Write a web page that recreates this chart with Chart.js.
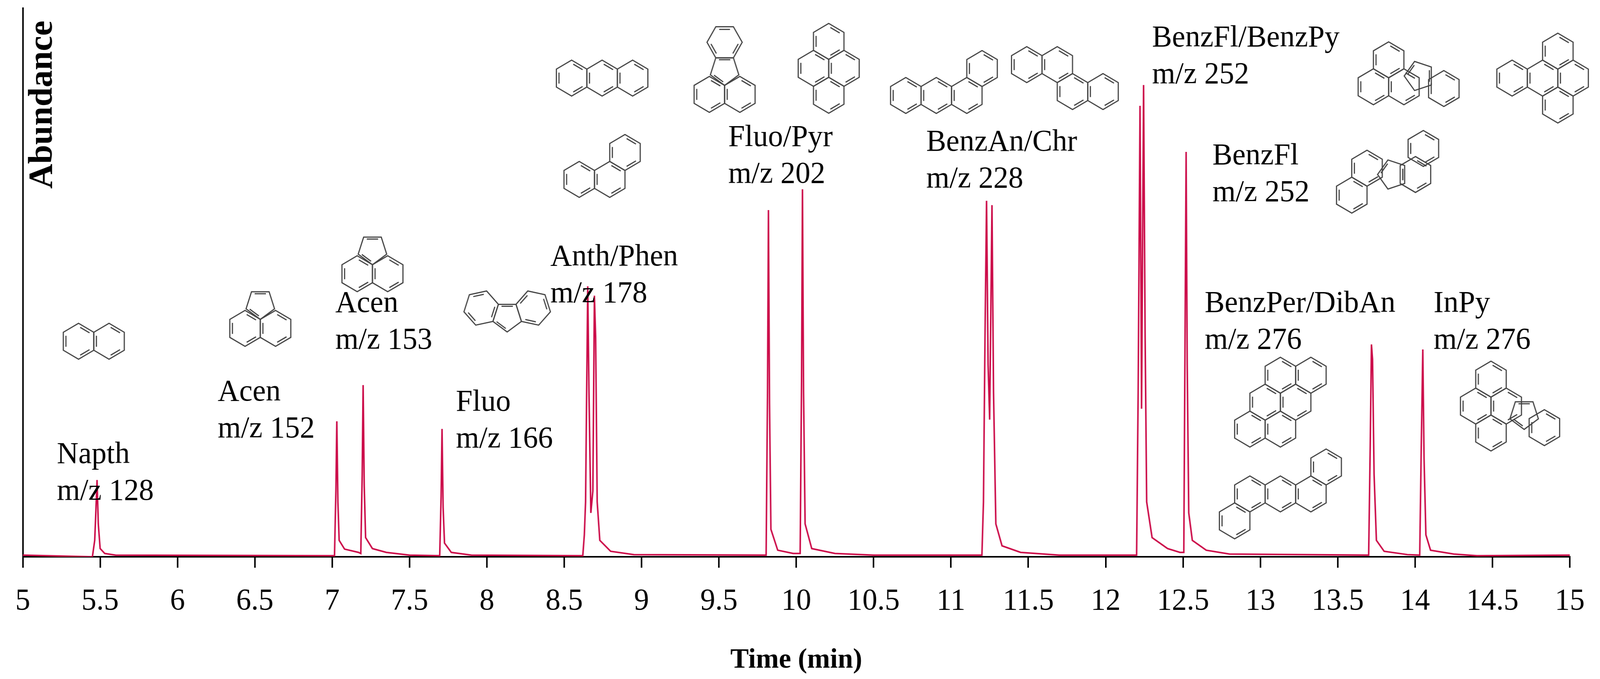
<!DOCTYPE html>
<html>
<head>
<meta charset="utf-8">
<script src="https://cdn.jsdelivr.net/npm/chart.js"></script>
<style>
  html, body { margin: 0; padding: 0; background: #fff; overflow: hidden; }
  #chart { display: block; width: 100vw !important; height: 100vh !important; }
</style>
</head>
<body>
<canvas id="chart" width="4180" height="1739"></canvas>
<script>
// x axis ticks (min)
const xTicks = [5, 5.5, 6, 6.5, 7, 7.5, 8, 8.5, 9, 9.5, 10, 10.5, 11, 11.5, 12, 12.5, 13, 13.5, 14, 14.5, 15];

// trace points: [time, abundance %]
const baseStart = [[5, 0.3]];
const napth = [[5.45,0],[5.465,3],[5.472,8],[5.48,14],[5.488,6],[5.5,1.5],[5.53,0.6],[5.6,0.3]];
const acen152 = [[7.015,0.2],[7.024,12],[7.03,24.7],[7.037,10],[7.045,3],[7.08,1.4],[7.17,0.8]];
const acen153 = [[7.185,0.6],[7.194,15],[7.2,31.3],[7.207,13],[7.216,3.5],[7.26,1.5],[7.35,0.8],[7.5,0.3]];
const fluo = [[7.695,0.2],[7.704,11],[7.71,23.3],[7.717,9],[7.726,2.5],[7.77,0.8],[7.9,0.3]];
const anthPhen = [[8.62,0.2],[8.63,4],[8.638,10],[8.645,30],[8.652,49.3],[8.66,30],[8.672,8],[8.685,12],[8.695,47.6],[8.703,40],[8.713,10],[8.73,3],[8.8,1],[8.95,0.4]];
const fluoPyr1 = [[9.805,0.3],[9.814,30],[9.82,63.2],[9.827,28],[9.836,5],[9.88,1.2],[9.98,0.6]];
const fluoPyr2 = [[10.025,0.6],[10.034,32],[10.04,67],[10.047,30],[10.057,6],[10.1,1.5],[10.25,0.6],[10.5,0.3]];
const benzAnChr = [[11.2,0.3],[11.21,10],[11.22,40],[11.23,64.9],[11.24,35],[11.25,25],[11.265,64.1],[11.275,30],[11.29,6],[11.33,2],[11.45,0.8],[11.7,0.3]];
const benzFlPy = [[12.2,0.3],[12.21,30],[12.222,82.2],[12.232,27],[12.245,86],[12.255,40],[12.265,10],[12.3,3.5],[12.4,1.5],[12.48,0.8]];
const benzFl = [[12.505,0.8],[12.512,35],[12.52,73.8],[12.527,35],[12.537,8],[12.56,3],[12.65,1.2],[12.8,0.5]];
const benzPer = [[13.7,0.3],[13.71,20],[13.718,38.7],[13.725,36],[13.735,15],[13.75,3],[13.8,1],[13.95,0.4]];
const inPy = [[14.03,0.3],[14.04,20],[14.05,37.8],[14.058,18],[14.07,4],[14.1,1.2],[14.25,0.5],[14.4,0.2]];
const baseEnd = [[15, 0.3]];

const trace = [].concat(baseStart, napth, acen152, acen153, fluo, anthPhen, fluoPyr1, fluoPyr2,
  benzAnChr, benzFlPy, benzFl, benzPer, inPy, baseEnd).map(p => ({ x: p[0], y: p[1] }));

// peak labels: [name, mass line, time, abundance of first line baseline]
const peakLabels = [
  ['Napth', 'm/z 128', 5.22, 17.1],
  ['Acen', 'm/z 152', 6.26, 28.5],
  ['Acen', 'm/z 153', 7.02, 44.6],
  ['Fluo', 'm/z 166', 7.80, 26.6],
  ['Anth/Phen', 'm/z 178', 8.41, 53.1],
  ['Fluo/Pyr', 'm/z 202', 9.56, 74.9],
  ['BenzAn/Chr', 'm/z 228', 10.84, 74.0],
  ['BenzFl/BenzPy', 'm/z 252', 12.30, 93.0],
  ['BenzFl', 'm/z 252', 12.69, 71.5],
  ['BenzPer/DibAn', 'm/z 276', 12.64, 44.6],
  ['InPy', 'm/z 276', 14.12, 44.6]
];

// ring drawings (structures), unit = ring side
function hx(q, r) { return { x: Math.sqrt(3) * (q + r / 2), y: 1.5 * r, n: 6, rot: -90 }; }
const pentTop = { x: 0.866, y: -1.35, n: 5, rot: 90 };
const fluoranthene = [hx(0,0), hx(1,0), pentTop, { x: 0.866, y: -2.9, n: 6, rot: 0 }];
const molecules = [
  { cx: 245, cy: 874, rings: [hx(0,0), hx(1,0)] },
  { cx: 680, cy: 810, rings: [hx(0,0), hx(1,0), pentTop] },
  { cx: 973, cy: 670, rings: [hx(0,0), hx(1,0), pentTop] },
  { cx: 1325, cy: 800, rings: [{ x: 0, y: 0, n: 5, rot: 90 }, { x: -1.478, y: -0.48, n: 6, rot: -12 }, { x: 1.478, y: -0.48, n: 6, rot: 312 }] },
  { cx: 1573, cy: 200, rings: [hx(0,0), hx(1,0), hx(2,0)] },
  { cx: 1573, cy: 425, rings: [hx(0,0), hx(1,0), hx(2,-1)] },
  { cx: 1893, cy: 175, rings: fluoranthene },
  { cx: 2165, cy: 175, rings: [hx(0,0), hx(1,0), hx(0,1), hx(1,-1)] },
  { cx: 2466, cy: 210, rings: [hx(0,0), hx(1,0), hx(2,0), hx(3,-1)] },
  { cx: 2782, cy: 200, rings: [hx(0,0), hx(1,0), hx(1,1), hx(2,1)] },
  { cx: 3680, cy: 190, rings: [hx(0,0), hx(1,0), { x: 2.6, y: -0.6, n: 5, rot: 180 }, hx(1,-1), { x: 4.0, y: 0.1, n: 6, rot: -90 }] },
  { cx: 4030, cy: 200, rings: [hx(0,0), hx(1,0), hx(0,1), hx(1,-1), hx(-1,0)] },
  { cx: 3625, cy: 440, rings: [hx(0,0), hx(-1,1), { x: 1.45, y: 0.35, n: 5, rot: 180 }, { x: 2.75, y: 0.35, n: 6, rot: -90 }, { x: 3.2, y: -1.1, n: 6, rot: -90 }] },
  { cx: 3345, cy: 1030, rings: [hx(0,0), hx(1,0), hx(1,-1), hx(0,1), hx(-1,1), hx(2,-1)] },
  { cx: 3345, cy: 1265, rings: [hx(0,0), hx(1,0), hx(2,0), hx(-1,1), hx(3,-1)] },
  { cx: 3945, cy: 1040, rings: [hx(0,0), hx(1,0), hx(0,1), hx(1,-1), { x: 2.75, y: 0.45, n: 5, rot: 90 }, { x: 3.9, y: 1.2, n: 6, rot: -90 }] }
];
const ringSide = 46;

function drawRing(ctx, x, y, n, rot, side) {
  const R = side / (2 * Math.sin(Math.PI / n));
  ctx.beginPath();
  for (let k = 0; k < n; k++) {
    const a = (rot + k * 360 / n) * Math.PI / 180;
    const px = x + R * Math.cos(a), py = y + R * Math.sin(a);
    if (k === 0) ctx.moveTo(px, py); else ctx.lineTo(px, py);
  }
  ctx.closePath();
  ctx.stroke();
  // inner double-bond strokes on alternating edges
  for (let k = 0; k < n - 1; k += 2) {
    const a1 = (rot + k * 360 / n) * Math.PI / 180, a2 = (rot + (k + 1) * 360 / n) * Math.PI / 180;
    const r2 = R * 0.78;
    ctx.beginPath();
    ctx.moveTo(x + r2 * Math.cos(a1 + 0.12), y + r2 * Math.sin(a1 + 0.12));
    ctx.lineTo(x + r2 * Math.cos(a2 - 0.12), y + r2 * Math.sin(a2 - 0.12));
    ctx.stroke();
  }
}

const decorations = {
  id: 'decorations',
  afterDatasetsDraw(chart) {
    const ctx = chart.ctx, xs = chart.scales.x, ys = chart.scales.y;
    ctx.save();
    ctx.fillStyle = '#000';
    ctx.font = '78px "Liberation Serif", serif';
    ctx.textBaseline = 'alphabetic';
    peakLabels.forEach(l => {
      const px = xs.getPixelForValue(l[2]), py = ys.getPixelForValue(l[3]);
      ctx.fillText(l[0], px, py);
      ctx.fillText(l[1], px, py + 94);
    });
    ctx.strokeStyle = '#444';
    ctx.lineWidth = 3;
    molecules.forEach(m => {
      let minX = 1e9, maxX = -1e9, minY = 1e9, maxY = -1e9;
      m.rings.forEach(r => {
        minX = Math.min(minX, r.x - 1); maxX = Math.max(maxX, r.x + 1);
        minY = Math.min(minY, r.y - 1); maxY = Math.max(maxY, r.y + 1);
      });
      const ox = m.cx - (minX + maxX) / 2 * ringSide, oy = m.cy - (minY + maxY) / 2 * ringSide;
      m.rings.forEach(r => drawRing(ctx, ox + r.x * ringSide, oy + r.y * ringSide, r.n, r.rot, ringSide));
    });
    // y axis title inside the plot
    ctx.translate(112, 268);
    ctx.rotate(-Math.PI / 2);
    ctx.textAlign = 'center';
    ctx.textBaseline = 'middle';
    ctx.font = 'bold 88px "Liberation Serif", serif';
    ctx.fillText('Abundance', 0, 0);
    ctx.restore();
  }
};

new Chart(document.getElementById('chart'), {
  type: 'scatter',
  data: {
    datasets: [{
      label: 'TIC',
      data: trace,
      showLine: true,
      borderColor: '#cc0d4a',
      borderWidth: 4,
      pointRadius: 0,
      tension: 0
    }]
  },
  options: {
    responsive: false,
    animation: false,
    devicePixelRatio: 1,
    layout: { padding: { left: 56, right: 53, top: 21, bottom: 0 } },
    plugins: { legend: { display: false }, tooltip: { enabled: false } },
    scales: {
      x: {
        type: 'linear', min: 5, max: 15,
        afterBuildTicks: s => { s.ticks = xTicks.map(v => ({ value: v })); },
        afterFit: s => { s.height = 313; },
        border: { display: true, color: '#000', width: 4 },
        grid: { display: true, drawOnChartArea: false, drawTicks: true, tickLength: 28, color: '#000', lineWidth: 4 },
        ticks: { color: '#000', padding: 40, maxRotation: 0, callback: v => String(v), font: { family: '"Liberation Serif", serif', size: 78 } },
        title: { display: true, text: 'Time (min)', color: '#000', padding: { top: 10 }, font: { family: '"Liberation Serif", serif', size: 72, weight: 'bold' } }
      },
      y: {
        min: 0, max: 100,
        afterFit: s => { s.width = 0; },
        border: { display: true, color: '#000', width: 4 },
        grid: { display: false },
        ticks: { display: false }
      }
    }
  },
  plugins: [decorations]
});
</script>
</body>
</html>
